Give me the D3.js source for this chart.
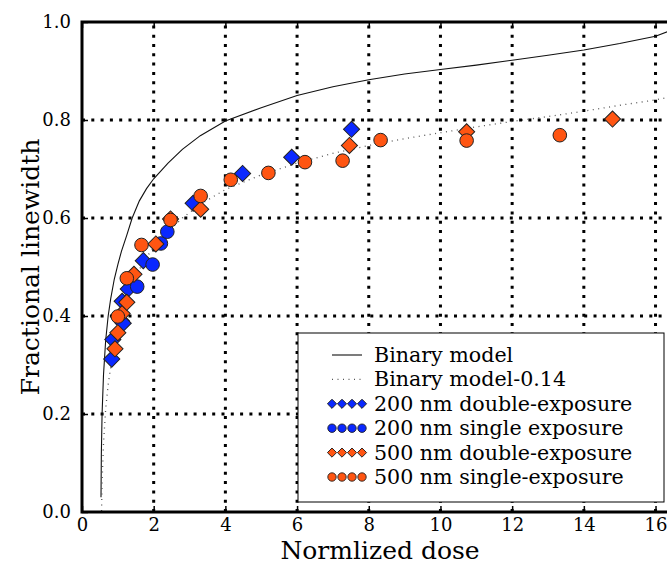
<!DOCTYPE html>
<html lang="en">
<head>
  <meta charset="utf-8">
  <title>Fractional linewidth vs normalized dose</title>
  <script src="https://cdn.jsdelivr.net/npm/d3@7"></script>
  <style>
    body { margin: 0; background: #fff; }
    #chart text { font-family: "DejaVu Serif", serif; fill: #000; }
  </style>
</head>
<body>
<div id="chart"></div>
<script>
"use strict";

// model curves
var modelDose = [0.53, 0.54, 0.56, 0.60, 0.66, 0.73, 0.80, 0.90, 1.00, 1.10, 1.25, 1.40, 1.60, 1.80, 2.00, 2.40, 2.80, 3.30, 4.00, 5.00, 6.00, 7.00, 8.00, 9.00, 10.0, 11.0, 12.0, 13.0, 14.0, 15.0, 16.0, 16.4];
var binaryModel = [0.03, 0.12, 0.20, 0.28, 0.35, 0.40, 0.435, 0.475, 0.505, 0.532, 0.565, 0.600, 0.635, 0.660, 0.680, 0.712, 0.740, 0.768, 0.798, 0.825, 0.850, 0.868, 0.882, 0.894, 0.903, 0.912, 0.922, 0.932, 0.943, 0.956, 0.971, 0.982];
var binaryModelShift = [-0.11, -0.02, 0.06, 0.14, 0.21, 0.26, 0.295, 0.335, 0.365, 0.392, 0.425, 0.46, 0.495, 0.52, 0.54, 0.572, 0.60, 0.628, 0.658, 0.688, 0.712, 0.732, 0.748, 0.762, 0.774, 0.786, 0.797, 0.807, 0.818, 0.830, 0.841, 0.847];

// measurements
var dose200Double = [0.83, 0.86, 1.10, 1.12, 1.15, 1.29, 1.71, 3.10, 4.48, 5.85, 7.52];
var width200Double = [0.312, 0.352, 0.39, 0.43, 0.385, 0.455, 0.513, 0.63, 0.691, 0.724, 0.781];
var dose200Single = [1.54, 1.97, 2.20, 2.38];
var width200Single = [0.46, 0.505, 0.548, 0.572];
var dose500Double = [0.92, 1.00, 1.12, 1.25, 1.45, 2.06, 2.47, 3.31, 7.46, 10.73, 14.80];
var width500Double = [0.333, 0.366, 0.405, 0.428, 0.485, 0.547, 0.598, 0.618, 0.748, 0.776, 0.802];
var dose500Single = [1.00, 1.25, 1.66, 2.47, 3.31, 4.15, 5.20, 6.22, 7.27, 8.33, 10.73, 13.33];
var width500Single = [0.399, 0.477, 0.545, 0.596, 0.645, 0.678, 0.692, 0.714, 0.717, 0.759, 0.758, 0.769];

var xTicks = [0, 2, 4, 6, 8, 10, 12, 14, 16];
var yTicks = [0.0, 0.2, 0.4, 0.6, 0.8, 1.0];
var legendLabels = ["Binary model", "Binary model-0.14", "200 nm double-exposure", "200 nm single exposure", "500 nm double-exposure", "500 nm single-exposure"];

var blue = "#0a28ff", orange = "#ff5512";

function desenha() {
  var W = 667, H = 566;
  var left = 82, top = 22, bottom = 512, right = 667;

  var svg = d3.select("#chart").append("svg")
    .attr("width", W).attr("height", H);

  var x = d3.scaleLinear().domain([0, 16.32]).range([left, right]);
  var y = d3.scaleLinear().domain([0, 1]).range([bottom, top]);

  svg.append("clipPath").attr("id", "plot")
    .append("rect").attr("x", left).attr("y", top)
    .attr("width", right - left).attr("height", bottom - top);

  // dotted grid
  var grid = svg.append("g");
  grid.selectAll(".gx").data(xTicks.filter(d => d > 0)).enter().append("line")
    .attr("x1", d => x(d)).attr("x2", d => x(d))
    .attr("y1", bottom).attr("y2", top)
    .attr("stroke", "#000").attr("stroke-width", 3).attr("stroke-dasharray", "3,6.3");
  grid.selectAll(".gy").data(yTicks.filter(d => d > 0 && d < 1)).enter().append("line")
    .attr("y1", d => y(d)).attr("y2", d => y(d))
    .attr("x1", left).attr("x2", right)
    .attr("stroke", "#000").attr("stroke-width", 3).attr("stroke-dasharray", "3,6.3");

  // model lines
  var line = d3.line().x(d => x(d[0])).y(d => y(d[1]));
  var curves = svg.append("g").attr("clip-path", "url(#plot)");
  curves.append("path").datum(d3.zip(modelDose, binaryModel))
    .attr("d", line).attr("fill", "none").attr("stroke", "#111").attr("stroke-width", 1.1);
  curves.append("path").datum(d3.zip(modelDose, binaryModelShift))
    .attr("d", line).attr("fill", "none").attr("stroke", "#555")
    .attr("stroke-width", 1.3).attr("stroke-dasharray", "1,4.5");

  // markers
  var diamond = d3.symbol().type(d3.symbolSquare).size(130);
  function diamonds(xs, ys, col) {
    svg.append("g").selectAll("path").data(d3.zip(xs, ys)).enter().append("path")
      .attr("d", diamond)
      .attr("transform", d => "translate(" + x(d[0]) + "," + y(d[1]) + ") rotate(45)")
      .attr("fill", col).attr("stroke", "#222").attr("stroke-width", 1);
  }
  function circles(xs, ys, col) {
    svg.append("g").selectAll("circle").data(d3.zip(xs, ys)).enter().append("circle")
      .attr("cx", d => x(d[0])).attr("cy", d => y(d[1])).attr("r", 6.8)
      .attr("fill", col).attr("stroke", "#222").attr("stroke-width", 1);
  }
  diamonds(dose200Double, width200Double, blue);
  circles(dose200Single, width200Single, blue);
  diamonds(dose500Double, width500Double, orange);
  circles(dose500Single, width500Single, orange);

  // legend box
  var lg = svg.append("g");
  lg.append("rect").attr("x", 298).attr("y", 333).attr("width", 366).attr("height", 169)
    .attr("fill", "#fff").attr("stroke", "#000").attr("stroke-width", 1);
  var rowY = d3.scalePoint().domain(legendLabels).range([355, 477]);
  lg.append("line").attr("x1", 332).attr("x2", 362)
    .attr("y1", rowY(legendLabels[0])).attr("y2", rowY(legendLabels[0]))
    .attr("stroke", "#111").attr("stroke-width", 1.1);
  lg.append("line").attr("x1", 332).attr("x2", 362)
    .attr("y1", rowY(legendLabels[1])).attr("y2", rowY(legendLabels[1]))
    .attr("stroke", "#555").attr("stroke-width", 1.3).attr("stroke-dasharray", "1,4.5");
  var keys = [null, null, ["d", blue], ["c", blue], ["d", orange], ["c", orange]];
  var small = d3.symbol().type(d3.symbolSquare).size(42);
  keys.forEach(function (k, i) {
    if (!k) return;
    var cy = rowY(legendLabels[i]);
    [332, 342, 352, 362].forEach(function (cx) {
      if (k[0] == "d") {
        lg.append("path").attr("d", small)
          .attr("transform", "translate(" + cx + "," + cy + ") rotate(45)")
          .attr("fill", k[1]).attr("stroke", "#222").attr("stroke-width", 0.9);
      } else {
        lg.append("circle").attr("cx", cx).attr("cy", cy).attr("r", 4.2)
          .attr("fill", k[1]).attr("stroke", "#222").attr("stroke-width", 0.9);
      }
    });
  });
  lg.selectAll("text.lab").data(legendLabels).enter().append("text")
    .attr("x", 374).attr("y", d => rowY(d))
    .attr("dominant-baseline", "central")
    .style("font-size", "20.6px")
    .text(d => d);

  // axes: ticks point inwards
  svg.append("g").attr("transform", "translate(0," + bottom + ")")
    .call(d3.axisBottom(x).tickValues(xTicks).tickSizeInner(-6).tickSizeOuter(0).tickPadding(6).tickFormat(d3.format("d")))
    .call(g => g.select(".domain").remove())
    .call(g => g.selectAll("line").attr("stroke-width", 1.5))
    .call(g => g.selectAll("text").style("font-size", "18px").attr("font-family", null));
  svg.append("g").attr("transform", "translate(0," + top + ")")
    .call(d3.axisTop(x).tickValues(xTicks).tickSizeInner(-6).tickSizeOuter(0).tickFormat(""))
    .call(g => g.select(".domain").remove())
    .call(g => g.selectAll("line").attr("stroke-width", 1.5));
  svg.append("g").attr("transform", "translate(" + left + ",0)")
    .call(d3.axisLeft(y).tickValues(yTicks).tickSizeInner(-6).tickSizeOuter(0).tickPadding(11).tickFormat(d3.format(".1f")))
    .call(g => g.select(".domain").remove())
    .call(g => g.selectAll("line").attr("stroke-width", 1.5))
    .call(g => g.selectAll("text").style("font-size", "18px").attr("font-family", null));

  // spines
  svg.append("path")
    .attr("d", "M" + right + "," + top + "H" + left + "V" + bottom + "H" + right)
    .attr("fill", "none").attr("stroke", "#000").attr("stroke-width", 3);

  // axis titles
  svg.append("text").attr("x", 380).attr("y", 559)
    .attr("text-anchor", "middle").style("font-size", "25px").text("Normlized dose");
  svg.append("text").attr("transform", "translate(39," + (top + bottom) / 2 + ") rotate(-90)")
    .attr("text-anchor", "middle").style("font-size", "25px").text("Fractional linewidth");
}

desenha();
</script>
</body>
</html>
